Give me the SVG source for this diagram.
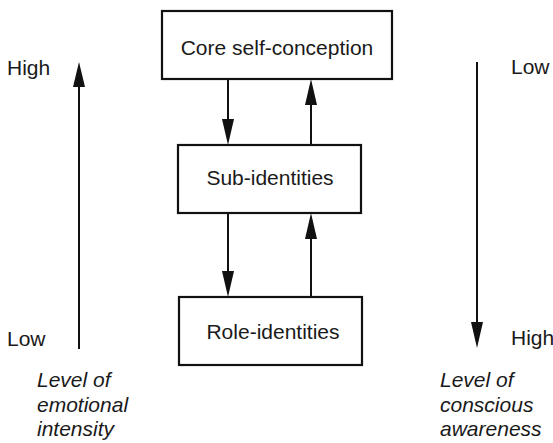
<svg xmlns="http://www.w3.org/2000/svg" width="553" height="443" viewBox="0 0 553 443">
<style>
.box{fill:#fff;stroke:#111;stroke-width:2.2}
.t{font-family:"Liberation Sans",Arial,sans-serif;font-size:21px;fill:#1a1a1a}
.c{text-anchor:middle}
.i{font-style:italic}
.ln{stroke:#111;stroke-width:2;fill:none}
.hd{fill:#111}
</style>
<rect width="553" height="443" fill="#fff"/>
<g id="connectors">
<line class="ln" x1="228" y1="79" x2="228" y2="140"/>
<path class="hd" d="M222,119 L234,119 L228,145 Z"/>
<line class="ln" x1="311" y1="145" x2="311" y2="85"/>
<path class="hd" d="M305,105 L317,105 L311,79 Z"/>
<line class="ln" x1="228" y1="213" x2="228" y2="292"/>
<path class="hd" d="M222,271 L234,271 L228,297 Z"/>
<line class="ln" x1="311" y1="297" x2="311" y2="219"/>
<path class="hd" d="M305,239 L317,239 L311,213 Z"/>
</g>
<g id="node-core">
<rect class="box" x="162" y="11" width="230" height="68"/>
<text class="t c" x="277" y="55">Core self-conception</text>
</g>
<g id="node-sub">
<rect class="box" x="178" y="145" width="183" height="68"/>
<text class="t c" x="270" y="185">Sub-identities</text>
</g>
<g id="node-role">
<rect class="box" x="179" y="297" width="183" height="68"/>
<text class="t c" x="273" y="339">Role-identities</text>
</g>
<g id="axis-left">
<line class="ln" x1="79" y1="349" x2="79" y2="80"/>
<path class="hd" d="M73,87 L85,87 L79,62 Z"/>
<text class="t" x="7" y="75">High</text>
<text class="t" x="7" y="346">Low</text>
<text class="t i" x="37" y="387">Level of</text>
<text class="t i" x="37" y="412">emotional</text>
<text class="t i" x="37" y="436">intensity</text>
</g>
<g id="axis-right">
<line class="ln" x1="477" y1="62" x2="477" y2="330"/>
<path class="hd" d="M471,322 L483,322 L477,348 Z"/>
<text class="t" x="511" y="74">Low</text>
<text class="t" x="511" y="345">High</text>
<text class="t i" x="440" y="387">Level of</text>
<text class="t i" x="440" y="412">conscious</text>
<text class="t i" x="440" y="436">awareness</text>
</g>
</svg>
